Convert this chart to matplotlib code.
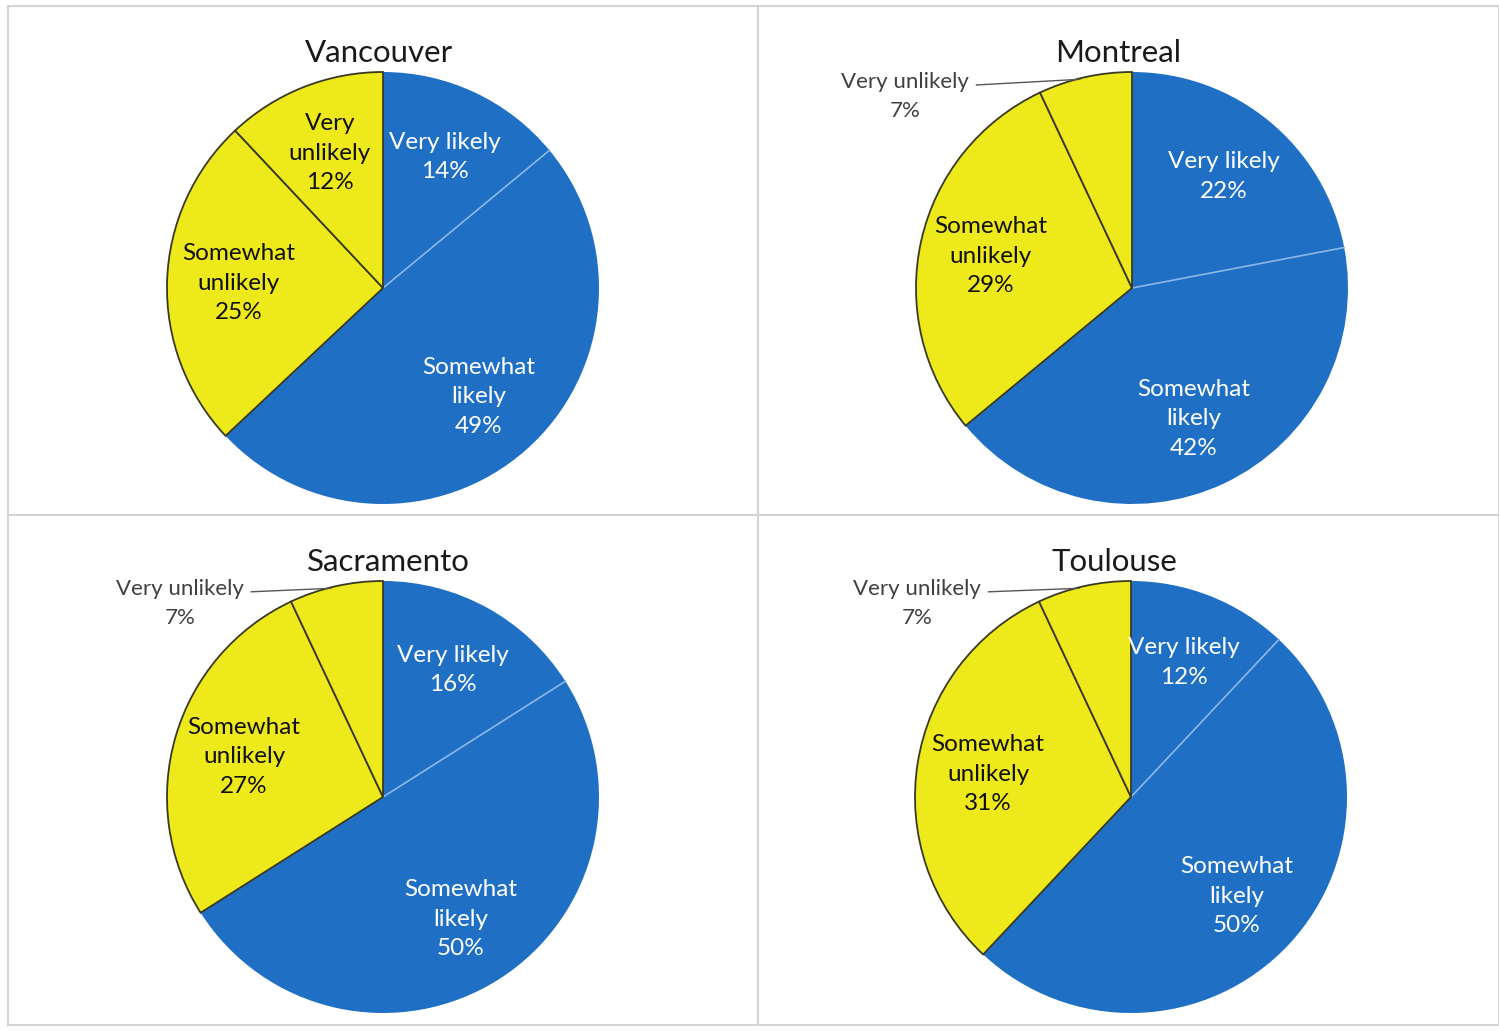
import numpy as np
import matplotlib.pyplot as plt

plt.rcParams['font.family'] = ['Lato', 'DejaVu Sans']

cities = ["Vancouver", "Montreal", "Sacramento", "Toulouse"]
categories = ["Very likely", "Somewhat likely", "Somewhat unlikely", "Very unlikely"]
very_likely = [14, 22, 16, 12]
somewhat_likely = [49, 42, 50, 50]
somewhat_unlikely = [25, 29, 27, 31]
very_unlikely = [12, 7, 7, 7]

blue = '#1f6fc5'
yellow = '#eee91a'
edge_dark = '#3a3a22'

W, H = 1499, 1031
# panel boxes in pixels: left, top, width, height
panels = [(8, 6, 750, 509), (758, 6, 741, 509),
          (8, 515, 750, 510), (758, 515, 741, 510)]
centers = [(383, 288), (1132, 288), (383, 797), (1131, 797)]
R = 216.0
title_dx = [-0.02, -0.065, 0.025, -0.075]
# where the small outside labels sit, in radius units from the pie centre
outside_pos = [None, (-1.05, 0.885), (-0.94, 0.895), (-0.99, 0.895)]

fig = plt.figure(figsize=(W / 100, H / 100), dpi=100)

for i, city in enumerate(cities):
    px, py, pw, ph = panels[i]
    ax = fig.add_axes([px / W, 1 - (py + ph) / H, pw / W, ph / H])
    cx, cy = centers[i]

    vals = [very_likely[i], somewhat_likely[i], somewhat_unlikely[i], very_unlikely[i]]
    wedges, _ = ax.pie(vals, colors=[blue, blue, yellow, yellow], startangle=90,
                       counterclock=False, radius=1.0, frame=True)
    ax.set_xlim((px - cx) / R, (px + pw - cx) / R)
    ax.set_ylim((cy - py - ph) / R, (cy - py) / R)
    ax.set_aspect('equal')
    ax.set_xticks([])
    ax.set_yticks([])
    for s in ax.spines.values():
        s.set_color('#d4d4d4')
        s.set_linewidth(1.5)

    for k, w in enumerate(wedges):
        if k < 2:
            w.set_edgecolor('none')
            w.set_zorder(1)
        else:
            w.set_edgecolor(edge_dark)
            w.set_linewidth(1.3)
            w.set_zorder(2)
    # light divider between the two blue slices
    a = np.deg2rad(wedges[0].theta1)
    ax.plot([0, np.cos(a)], [0, np.sin(a)], color='#8db8e6', lw=1.2, zorder=1.5)

    ax.text(title_dx[i], 1.09, city, ha='center', va='center', fontsize=22.5, color='#1a1a1a')

    for k, w in enumerate(wedges):
        mid = np.deg2rad((w.theta1 + w.theta2) / 2)
        name = categories[k]
        if k != 0 and k != 3 or (k == 3 and vals[k] >= 10):
            name = name.replace(' ', '\n')
        txt = f"{name}\n{vals[k]}%"
        tc = 'white' if k < 2 else '#111111'
        if vals[k] < 10:
            ox, oy = outside_pos[i]
            ax.text(ox, oy, txt, ha='center', va='center', fontsize=16,
                    color='#404040', linespacing=1.55)
            # leader line from the end of the first line to the slice edge
            x0 = ox + 0.33
            y0 = oy + 0.055
            ax.plot([x0, 0.97 * np.cos(mid) - 0.03], [y0, 0.99 * np.sin(mid)],
                    color='#555555', lw=1, zorder=3)
        else:
            ax.text(0.67 * np.cos(mid), 0.67 * np.sin(mid), txt, ha='center', va='center',
                    fontsize=17.5, color=tc, linespacing=1.5, zorder=4)

fig.savefig('out.png', dpi=100)
